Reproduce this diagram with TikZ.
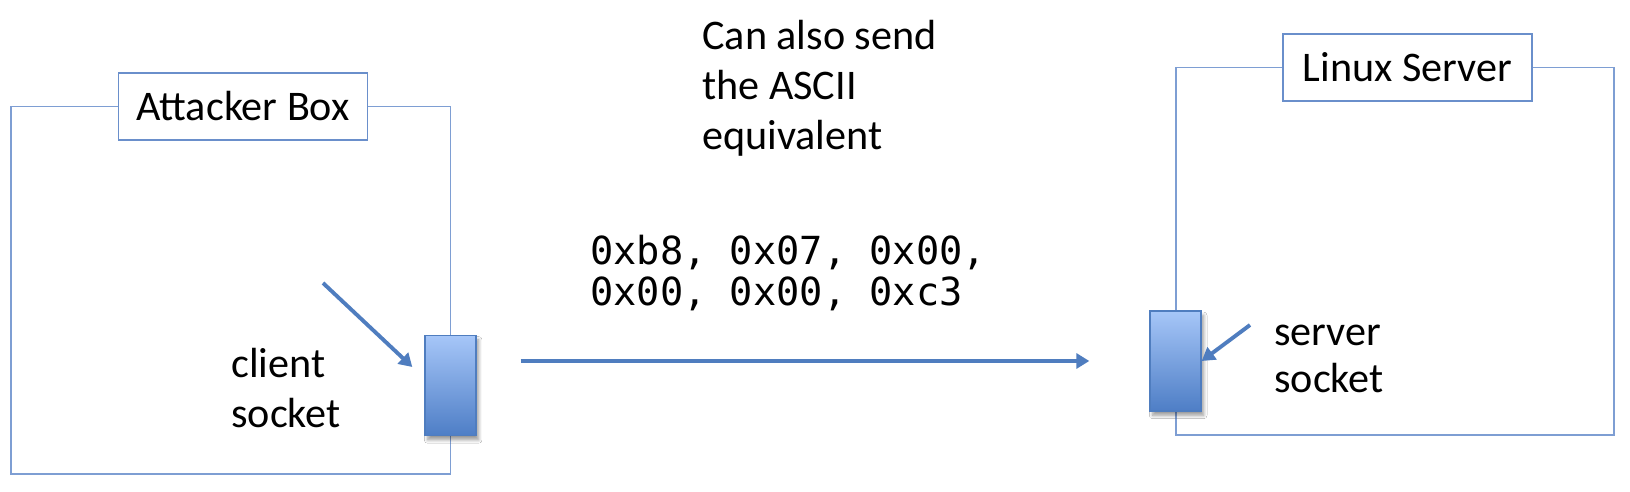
\documentclass[tikz,border=0pt]{standalone}
\usepackage{fontspec}
\setmainfont{Carlito}
\newfontfamily\hexfont{DejaVu Sans Mono}
\usetikzlibrary{arrows.meta,calc,shadows.blur}
\definecolor{Frame}{HTML}{7E9ED3}
\definecolor{Edge}{HTML}{6A8FCB}
\definecolor{Wire}{HTML}{4F7DBF}
\definecolor{SockTop}{HTML}{A6C6F8}
\definecolor{SockBot}{HTML}{4E7EC6}

\tikzset{
  hostlabel/.style={draw=Edge,line width=1pt,fill=white,minimum width=4.98cm,minimum height=1.34cm,inner sep=0pt,font=\fontsize{24}{28.5}\selectfont},
  sockbox/.style={draw=Wire,line width=0.8pt,top color=SockTop,bottom color=SockBot,minimum width=1.02cm,minimum height=2cm,inner sep=0pt,
    blur shadow={shadow xshift=1.5pt,shadow yshift=-2.5pt,shadow blur steps=6}},
  ptr/.style={-{Triangle[length=0.26cm,width=0.3cm]},line width=2.2pt,draw=Wire},
  txt/.style={font=\fontsize{24}{28.5}\selectfont,align=left,anchor=base west,inner sep=0pt},
}

\begin{document}
\begin{tikzpicture}[x=0.02cm,y=-0.02cm]
\fill[white] (0,0) rectangle (1630,492);
\useasboundingbox (0,0) rectangle (1630,492);

% attacker side
\draw[Frame,line width=0.8pt] (11,106.5) rectangle (450.5,474);
\node[hostlabel] (attlbl) at (243,106.5) {Attacker Box};
\node[sockbox] (csock) at (450.5,385.5) {};
\node[txt] (clientlbl) at (231,428) {client\\socket};
\coordinate (cptrtail) at (323,283);
\draw[ptr] (cptrtail) -- ($(csock.west)+(-12,-18.5)$);

% server side
\draw[Frame,line width=0.8pt] (1176,67.5) rectangle (1614,435);
\node[hostlabel] (srvlbl) at (1407.5,67.5) {Linux Server};
\node[sockbox] (ssock) at (1175.5,361) {};
\node[txt,font=\fontsize{24}{27}\selectfont] (serverlbl) at (1274,393) {server\\socket};
\coordinate (sptrtail) at (1250,325);
\draw[ptr] (sptrtail) -- (ssock.east);

% payload in transit
\node[txt] (asciinote) at (702,150) {Can also send\\the ASCII\\equivalent};
\node[txt,font=\fontsize{22}{23.7}\selectfont\hexfont] (payload) at (590,306) {0xb8, 0x07, 0x00,\\0x00, 0x00, 0xc3};
\draw[ptr,shorten <=0.88cm,shorten >=1.2cm] (csock.east |- ssock.west) -- (ssock.west);
\end{tikzpicture}
\end{document}
